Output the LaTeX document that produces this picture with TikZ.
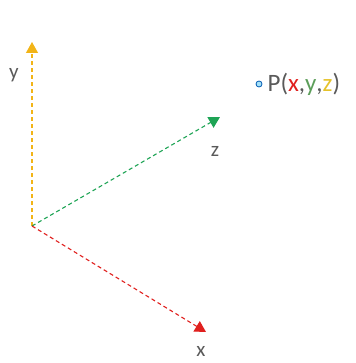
\documentclass[tikz,border=0pt]{standalone}
\usepackage{fontspec}
\setmainfont{Carlito}
\usetikzlibrary{arrows.meta}

\definecolor{axisred}{HTML}{E0201E}
\definecolor{axisgreen}{HTML}{1EA455}
\definecolor{axisyellow}{HTML}{F2B417}
\definecolor{labelgray}{HTML}{5A5A5A}
\definecolor{pgreen}{HTML}{5C9E5A}
\definecolor{pyellow}{HTML}{E5C22A}

\tikzset{
    axisline/.style={dashed, dash pattern=on 4pt off 3pt, line width=1.1pt},
    axislabel/.style={text=labelgray, font=\fontsize{21}{24}\selectfont},
    pointlabel/.style={text=labelgray, font=\fontsize{25}{28}\selectfont},
    pointdot/.style={circle, draw=blue!50!cyan!70!black, fill=cyan!35,
        line width=0.8pt, inner sep=0pt, minimum size=6pt}
}

\begin{document}
\begin{tikzpicture}[
    x=1pt,
    y=-1pt
]

\useasboundingbox (0,0) rectangle (355,363);

% Origin and axis tips
\coordinate (O) at (32,226);
\coordinate (Ytip) at (32,42);
\coordinate (Ztip) at (220,117);
\coordinate (Xtip) at (206,332);

% Axes
\foreach \tip/\col in {Ytip/axisyellow, Ztip/axisgreen, Xtip/axisred} {
    \draw[axisline, draw=\col, -{Triangle[length=11pt,width=12pt,fill=\col]}] (O) -- (\tip);
}

% Axis labels
\node[axislabel] (ylab) at (14,75) {y};
\node[axislabel] (zlab) at (215,151) {z};
\node[axislabel] (xlab) at (201,351) {x};

% Point P
\node[pointdot] (P) at (259,84) {};
\node[pointlabel, anchor=west, inner sep=1pt] (Plab) at ([xshift=4pt]P.east)
    {P(\textcolor{axisred}{x},\textcolor{pgreen}{y},\textcolor{pyellow}{z})};

\end{tikzpicture}
\end{document}
